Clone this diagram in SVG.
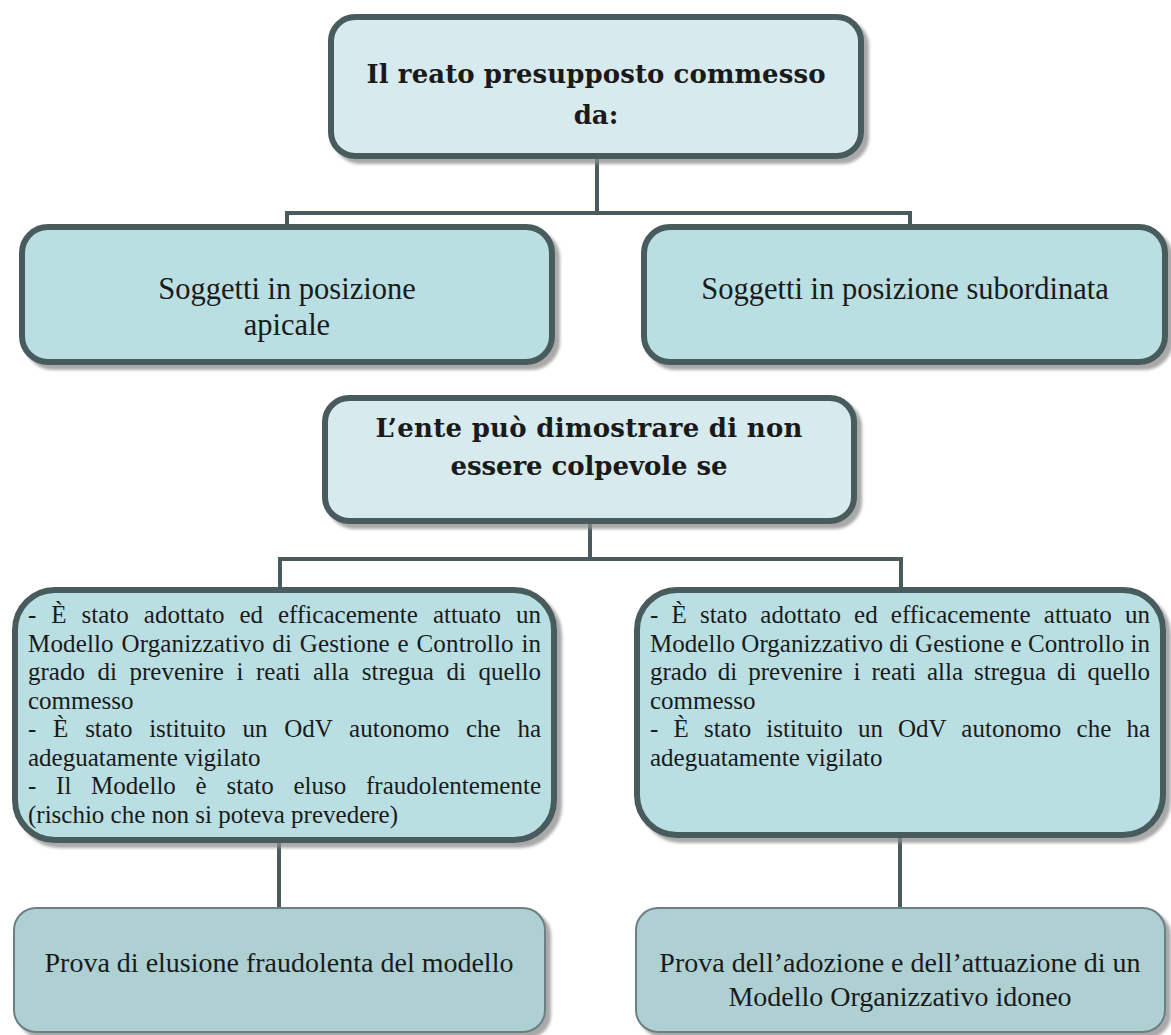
<svg xmlns="http://www.w3.org/2000/svg" width="1171" height="1035" viewBox="0 0 1171 1035">
<defs>
<filter id="sh" x="-5%" y="-5%" width="115%" height="120%">
<feDropShadow dx="5" dy="5" stdDeviation="1.5" flood-color="#8c8c8c" flood-opacity="0.75"/>
</filter>
<style>
.b1{fill:#d7ebee;stroke:#4a5b5d;stroke-width:6;filter:url(#sh)}
.b2{fill:#b9dfe2;stroke:#4a5b5d;stroke-width:6;filter:url(#sh)}
.b3{fill:#afd0d3;stroke:#6a8083;stroke-width:2;filter:url(#sh)}
.c{stroke:#4a5b5d;stroke-width:4;fill:none}
text{font-family:'Liberation Serif','Times New Roman',serif;fill:#1a1a1a}
.tb{font-family:'DejaVu Serif','Liberation Serif',serif;font-weight:bold;font-size:26px;text-anchor:middle}
.tn{font-size:30.5px;text-anchor:middle}
.tp{font-size:28px;text-anchor:middle}
.tx{font-size:25px}
</style>
</defs>
<g id="connectors">
<path class="c" d="M597 159V213M287 224V213H910V224"/>
<path class="c" d="M590 524V559M280 587V559H901V587"/>
<path class="c" d="M279 843V907"/>
<path class="c" d="M900 838V907"/>
</g>
<g id="n1">
<rect class="b1" x="331" y="17" width="530" height="139" rx="24"/>
<text class="tb" x="596" y="83" textLength="459" lengthAdjust="spacing">Il reato presupposto commesso</text>
<text class="tb" x="596" y="124">da:</text>
</g>
<g id="n2">
<rect class="b2" x="22" y="227" width="530" height="135" rx="26"/>
<text class="tn" x="287" y="299">Soggetti in posizione</text>
<text class="tn" x="287" y="335">apicale</text>
</g>
<g id="n3">
<rect class="b2" x="644" y="227" width="521" height="135" rx="26"/>
<text class="tn" x="905" y="299">Soggetti in posizione subordinata</text>
</g>
<g id="n4">
<rect class="b1" x="325" y="398" width="529" height="123" rx="24"/>
<text class="tb" x="589" y="437" textLength="427" lengthAdjust="spacing">L’ente può dimostrare di non</text>
<text class="tb" x="589" y="475" textLength="277" lengthAdjust="spacing">essere colpevole se</text>
</g>
<g id="n5">
<rect class="b2" x="15" y="590" width="539" height="250" rx="40"/>
<text class="tx" x="28" y="623" style="word-spacing:8.7px" textLength="513" lengthAdjust="spacing">- È stato adottato ed efficacemente attuato un</text>
<text class="tx" x="28" y="651.5" style="word-spacing:1.3px" textLength="513" lengthAdjust="spacing">Modello Organizzativo di Gestione e Controllo in</text>
<text class="tx" x="28" y="680" style="word-spacing:6.3px" textLength="513" lengthAdjust="spacing">grado di prevenire i reati alla stregua di quello</text>
<text class="tx" x="28" y="708.5">commesso</text>
<text class="tx" x="28" y="737" style="word-spacing:10.5px" textLength="513" lengthAdjust="spacing">- È stato istituito un OdV autonomo che ha</text>
<text class="tx" x="28" y="765.5">adeguatamente vigilato</text>
<text class="tx" x="28" y="794" style="word-spacing:13.5px" textLength="513" lengthAdjust="spacing">- Il Modello è stato eluso fraudolentemente</text>
<text class="tx" x="28" y="822.5">(rischio che non si poteva prevedere)</text>
</g>
<g id="n6">
<rect class="b2" x="637" y="590" width="526" height="245" rx="40"/>
<text class="tx" x="650" y="623" style="word-spacing:6.9px" textLength="500" lengthAdjust="spacing">- È stato adottato ed efficacemente attuato un</text>
<text class="tx" x="650" y="651.5" textLength="500" lengthAdjust="spacing">Modello Organizzativo di Gestione e Controllo in</text>
<text class="tx" x="650" y="680" style="word-spacing:4.7px" textLength="500" lengthAdjust="spacing">grado di prevenire i reati alla stregua di quello</text>
<text class="tx" x="650" y="708.5">commesso</text>
<text class="tx" x="650" y="737" style="word-spacing:8.9px" textLength="500" lengthAdjust="spacing">- È stato istituito un OdV autonomo che ha</text>
<text class="tx" x="650" y="765.5">adeguatamente vigilato</text>
</g>
<g id="n7">
<rect class="b3" x="14" y="908" width="531" height="124" rx="22"/>
<text class="tp" x="279" y="972">Prova di elusione fraudolenta del modello</text>
</g>
<g id="n8">
<rect class="b3" x="636" y="908" width="529" height="124" rx="22"/>
<text class="tp" x="900" y="972">Prova dell’adozione e dell’attuazione di un</text>
<text class="tp" x="900" y="1006">Modello Organizzativo idoneo</text>
</g>
</svg>
